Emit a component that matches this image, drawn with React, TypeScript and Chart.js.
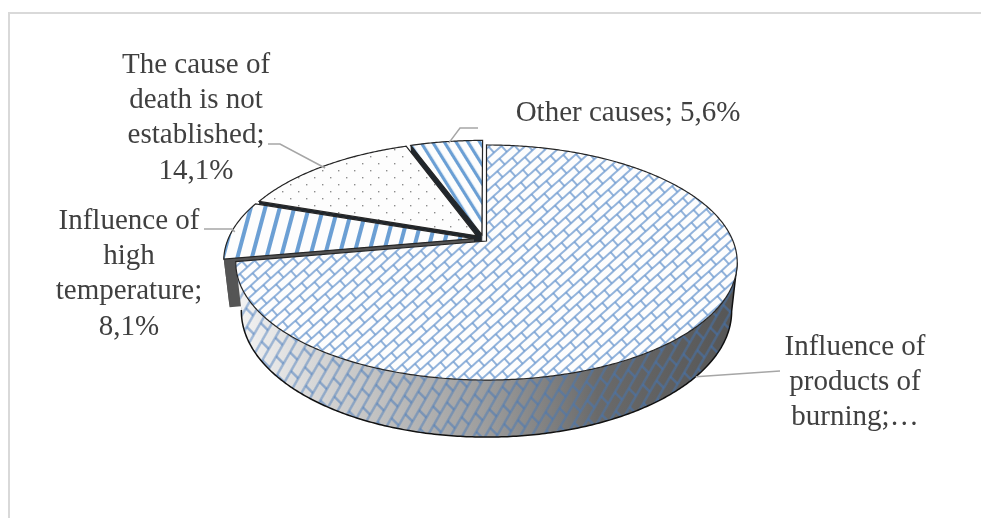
import React, { useEffect, useRef } from "react";
import { Chart, registerables } from "chart.js";

Chart.register(...registerables);

// Causes of death and their shares, in percent
const categories = [
  "Influence of products of burning",
  "Influence of high temperature",
  "The cause of death is not established",
  "Other causes",
];
const shares = [72.2, 8.1, 14.1, 5.6];
const labelLines = [
  ["Influence of", "products of", "burning;…"],
  ["Influence of", "high", "temperature;", "8,1%"],
  ["The cause of", "death is not", "established;", "14,1%"],
  ["Other causes; 5,6%"],
];
const labelCentres = [
  [855, 347],
  [129, 221],
  [196, 65],
  [628, 113],
];
// Leader elbows: an optional bend, then the point where the line reaches the text
const leaderRoutes = [
  [[780, 371]],
  [[232, 229], [204, 229]],
  [[280, 144], [268, 144]],
  [[460, 128], [478, 128]],
];
const explode = [0, 10, 10, 10];
const faceColors = ["#555555", "#555555", "#20262c", "#20262c"];

// Tilted-disc projection: far edge shrinks by the perspective factor
const PERSPECTIVE = 0.183;
const CX = 486.5;
const TOP_PLANE = { a: 246.5, b: 113.6, cy: 241 };
const BOTTOM_PLANE = { a: 241, b: 121.8, cy: 288 };
// Common drift of the pulled-out slices, on top of their own explosion
const DRIFT_X = -0.012;
const DRIFT_Z = 0.018;

type Plane = { a: number; b: number; cy: number };

function project(x: number, z: number, plane: Plane): [number, number] {
  const w = 1 + PERSPECTIVE * z;
  return [CX + (plane.a * x) / w, plane.cy - (plane.b * z) / w];
}

function tile(w: number, h: number, paint: (c: CanvasRenderingContext2D) => void) {
  const t = document.createElement("canvas");
  t.width = w;
  t.height = h;
  paint(t.getContext("2d") as CanvasRenderingContext2D);
  return t;
}

function brickTile(background: string | null, stroke: string, width: number) {
  return tile(20, 16, (c) => {
    if (background) {
      c.fillStyle = background;
      c.fillRect(0, 0, 20, 16);
    }
    c.strokeStyle = stroke;
    c.lineWidth = width;
    c.beginPath();
    c.moveTo(0, 4);
    c.lineTo(20, 4);
    c.moveTo(0, 12);
    c.lineTo(20, 12);
    c.moveTo(5, 4);
    c.lineTo(5, 12);
    c.moveTo(15, 12);
    c.lineTo(15, 16);
    c.moveTo(15, 0);
    c.lineTo(15, 4);
    c.stroke();
  });
}

function stripeTile(size: number, band: number) {
  return tile(size, size, (c) => {
    c.fillStyle = "#fdfdfd";
    c.fillRect(0, 0, size, size);
    c.fillStyle = "#6b9fd4";
    c.fillRect(0, 0, band, size);
  });
}

export default function App() {
  const ref = useRef<HTMLCanvasElement>(null);

  useEffect(() => {
    const canvas = ref.current as HTMLCanvasElement;
    const ctx = canvas.getContext("2d") as CanvasRenderingContext2D;

    const brick = ctx.createPattern(brickTile("#fdfdfd", "#6f9bd0", 1.5), "repeat") as CanvasPattern;
    brick.setTransform(new DOMMatrix().rotate(-42));
    const rising = ctx.createPattern(stripeTile(14, 4), "repeat") as CanvasPattern;
    rising.setTransform(new DOMMatrix().rotate(15));
    const falling = ctx.createPattern(stripeTile(10, 3.2), "repeat") as CanvasPattern;
    falling.setTransform(new DOMMatrix().rotate(-32));
    const dots = ctx.createPattern(
      tile(16, 14, (c) => {
        c.fillStyle = "#fdfdfd";
        c.fillRect(0, 0, 16, 14);
        c.fillStyle = "#8c8c8c";
        c.fillRect(2, 2, 1.4, 1.4);
        c.fillRect(10, 9, 1.4, 1.4);
      }),
      "repeat",
    ) as CanvasPattern;
    const sideBrick = ctx.createPattern(brickTile(null, "rgba(66,120,186,0.9)", 1.1), "repeat") as CanvasPattern;
    sideBrick.setTransform(new DOMMatrix([0.65, -1.13, 0.92, 0.92, 0, 0]));

    const discPlugin = {
      id: "tiltedDisc",
      beforeDatasetDraw(chart: Chart) {
        const c = chart.ctx;
        const arcs = chart.getDatasetMeta(0).data as any[];

        const sideFill = c.createLinearGradient(236, 0, 738, 0);
        sideFill.addColorStop(0, "#f4f4f4");
        sideFill.addColorStop(0.2, "#cfcfcf");
        sideFill.addColorStop(0.5, "#9c9c9c");
        sideFill.addColorStop(0.72, "#6a6a6a");
        sideFill.addColorStop(1, "#555555");

        // Back slices first, so that nearer ones cover their hidden parts
        for (let i = arcs.length - 1; i >= 0; i--) {
          const arc = arcs[i];
          const start: number = arc.startAngle;
          const end: number = arc.endAngle;
          const mid = (start + end) / 2;
          const shift = (arc.options.offset || 0) / arc.outerRadius;
          const dx = Math.cos(mid) * shift + (shift ? DRIFT_X : 0);
          const dz = -Math.sin(mid) * shift + (shift ? DRIFT_Z : 0);
          const rim = (a: number, plane: Plane) => project(Math.cos(a) + dx, -Math.sin(a) + dz, plane);
          const apex = (plane: Plane) => project(dx, dz, plane);
          const arcAngles = (from: number, to: number) => {
            const n = Math.max(2, Math.ceil(Math.abs(to - from) / 0.01));
            return Array.from({ length: n + 1 }, (_, k) => from + ((to - from) * k) / n);
          };

          const polygon = (pts: [number, number][]) => {
            c.beginPath();
            pts.forEach((p, k) => (k ? c.lineTo(p[0], p[1]) : c.moveTo(p[0], p[1])));
            c.closePath();
          };

          // Cut faces
          c.fillStyle = faceColors[i];
          for (const a of [end, start]) {
            polygon([apex(TOP_PLANE), rim(a, TOP_PLANE), rim(a, BOTTOM_PLANE), apex(BOTTOM_PLANE)]);
            c.fill();
          }

          // Outer wall, only the part turned towards the viewer on the large slice
          const wallFrom = Math.max(start, Math.asin(PERSPECTIVE));
          const wall = [
            ...arcAngles(wallFrom, end).map((a) => rim(a, TOP_PLANE)),
            ...arcAngles(end, wallFrom).map((a) => rim(a, BOTTOM_PLANE)),
          ];
          polygon(wall);
          if (i === 0) {
            c.fillStyle = sideFill;
            c.fill();
            c.fillStyle = sideBrick;
            c.fill();
            c.strokeStyle = "#111111";
            c.lineWidth = 1.5;
            c.beginPath();
            const lower = arcAngles(wallFrom, end).map((a) => rim(a, BOTTOM_PLANE));
            const edge = rim(wallFrom, TOP_PLANE);
            c.moveTo(edge[0], edge[1]);
            lower.forEach((p) => c.lineTo(p[0], p[1]));
            c.stroke();
          } else {
            c.fillStyle = faceColors[i];
            c.fill();
          }

          // Top surface
          polygon([apex(TOP_PLANE), ...arcAngles(start, end).map((a) => rim(a, TOP_PLANE))]);
          c.fillStyle = arc.options.backgroundColor;
          c.fill();
          c.strokeStyle = arc.options.borderColor;
          c.lineWidth = arc.options.borderWidth;
          c.stroke();
        }
        return false;
      },
      afterDraw(chart: Chart) {
        const c = chart.ctx;
        const arcs = chart.getDatasetMeta(0).data as any[];
        c.save();
        c.strokeStyle = "#a6a6a6";
        c.lineWidth = 1.5;
        arcs.forEach((arc, i) => {
          const mid = (arc.startAngle + arc.endAngle) / 2;
          const shift = (arc.options.offset || 0) / arc.outerRadius;
          const plane = i === 0 ? BOTTOM_PLANE : TOP_PLANE;
          const from = project(
            Math.cos(mid) * (1 + shift),
            -Math.sin(mid) * (1 + shift),
            plane,
          );
          c.beginPath();
          c.moveTo(from[0], from[1]);
          leaderRoutes[i].forEach((p) => c.lineTo(p[0], p[1]));
          c.stroke();
        });
        c.fillStyle = "#404040";
        c.font = '29px "Liberation Serif"';
        c.textAlign = "center";
        c.textBaseline = "middle";
        labelLines.forEach((lines, i) => {
          lines.forEach((line, k) => {
            c.fillText(line, labelCentres[i][0], labelCentres[i][1] + k * 35.4);
          });
        });
        c.restore();
      },
    };

    const chart = new Chart(canvas, {
      type: "pie",
      data: {
        labels: categories,
        datasets: [
          {
            data: shares,
            backgroundColor: [brick, rising, dots, falling],
            borderColor: "#262626",
            borderWidth: 1.2,
            offset: explode,
          },
        ],
      },
      options: {
        responsive: false,
        animation: false,
        plugins: { legend: { display: false }, tooltip: { enabled: false } },
      },
      plugins: [discPlugin],
    } as any);
    return () => chart.destroy();
  }, []);

  return (
    <div style={{ position: "fixed", inset: 0, background: "#ffffff", overflow: "hidden" }}>
      <div
        style={{
          position: "absolute",
          left: 8,
          top: 12,
          width: 1000,
          height: 600,
          borderTop: "2px solid #d9d9d9",
          borderLeft: "2px solid #d9d9d9",
        }}
      />
      <canvas ref={ref} width={981} height={518} style={{ position: "absolute", left: 0, top: 0, display: "block" }} />
    </div>
  );
}
